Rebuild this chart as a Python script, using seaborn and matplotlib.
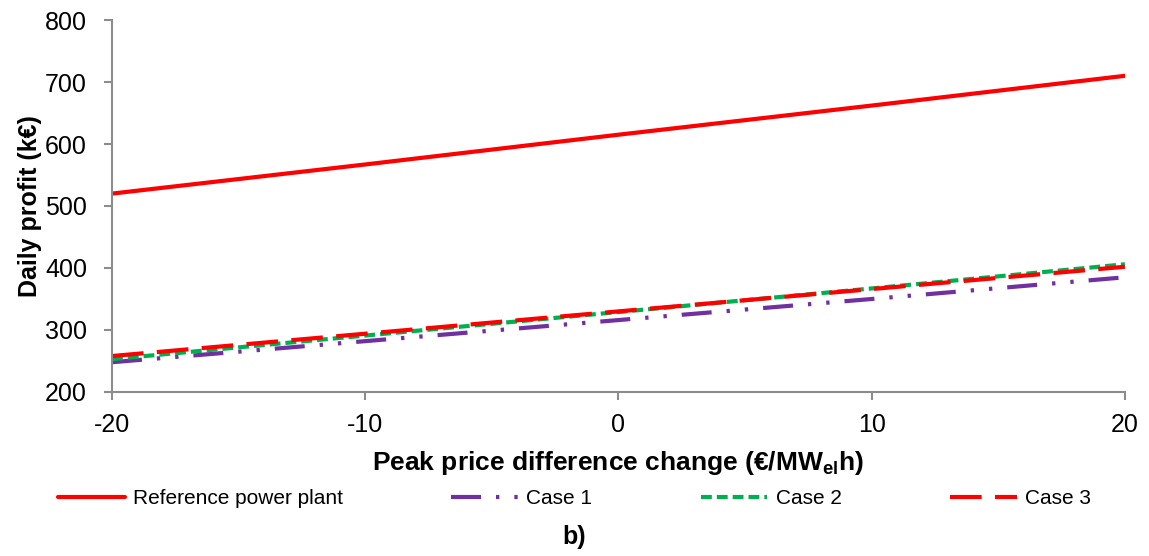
import matplotlib
matplotlib.use("Agg")
import matplotlib.pyplot as plt
import seaborn as sns
import pandas as pd

x_values = [-20, -10, 0, 10, 20]
reference_plant = [520, 567, 615, 662, 710]
case1 = [248, 282, 316, 350, 385]
case2 = [253, 291, 329, 367, 406]
case3 = [258, 294, 330, 366, 402]
series_names = ["Reference power plant", "Case 1", "Case 2", "Case 3"]
y_ticks = [200, 300, 400, 500, 600, 700, 800]
x_ticks = [-20, -10, 0, 10, 20]

sns.set_theme(style="white")
plt.rcParams['font.family'] = ['Liberation Sans', 'DejaVu Sans']
plt.rcParams['axes.unicode_minus'] = False
plt.rcParams['mathtext.fontset'] = 'custom'
plt.rcParams['mathtext.bf'] = 'Liberation Sans:bold'
plt.rcParams['mathtext.rm'] = 'Liberation Sans'

rows = []
for name, vals in zip(series_names, [reference_plant, case1, case2, case3]):
    for xv, yv in zip(x_values, vals):
        rows.append({"x": xv, "y": yv, "series": name})
df = pd.DataFrame(rows)

colors = {"Reference power plant": "#FF0000", "Case 1": "#7030A0",
          "Case 2": "#00B050", "Case 3": "#FF0000"}
dashes = {"Reference power plant": "",
          "Case 1": (7.2, 3.6, 0.8, 3.6, 0.8, 3.6),
          "Case 2": (2.6, 1.2),
          "Case 3": (7.6, 3.2)}

fig = plt.figure(figsize=(11.49, 5.56), dpi=100)
ax = fig.add_axes([0.0975, 0.295, 0.8815, 0.669])

sns.lineplot(data=df, x="x", y="y", hue="series", style="series",
             palette=colors, dashes=dashes, hue_order=series_names,
             style_order=series_names, linewidth=3, ax=ax, legend=True)

ax.set_xlim(-20, 20)
ax.set_ylim(200, 800)
ax.set_xticks(x_ticks)
ax.set_yticks(y_ticks)
ax.tick_params(axis='both', labelsize=18, labelcolor='black', length=6, width=1.5,
               direction='out', bottom=True, left=True, color='#8C8C8C')
ax.tick_params(axis='y', pad=12)
ax.tick_params(axis='x', pad=9)
for s in ['top', 'right']:
    ax.spines[s].set_visible(False)
for s in ['left', 'bottom']:
    ax.spines[s].set_color('#8C8C8C')
    ax.spines[s].set_linewidth(1.5)

ax.set_ylabel("Daily profit (k€)", fontsize=18, fontweight='bold', labelpad=2,
              color='black')
ax.set_xlabel(r"Peak price difference change (€/MW$_{\mathbf{el}}$h)", fontsize=19,
              fontweight='bold', labelpad=9, color='black')

handles, labels = ax.get_legend_handles_labels()
ax.get_legend().remove()
leg = fig.legend(handles, labels, loc='center', ncol=4,
                 bbox_to_anchor=(0.5, 0.103), frameon=False,
                 fontsize=15, handlelength=3.2, handletextpad=0.4,
                 columnspacing=5.2, borderaxespad=0)
for t in leg.get_texts():
    t.set_color('black')

fig.text(0.5, 0.034, "b)", ha='center', va='center', fontsize=18,
         fontweight='bold', color='black')

fig.savefig("out.png", dpi=100)
